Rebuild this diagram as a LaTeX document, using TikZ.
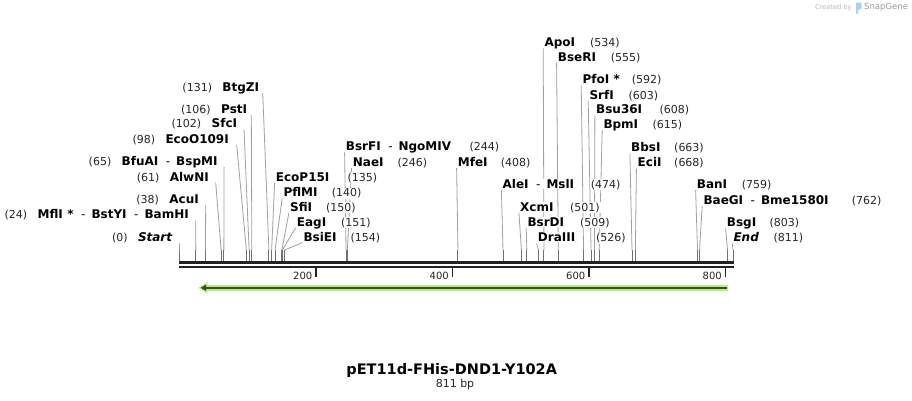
\documentclass[tikz,border=0pt]{standalone}
\usepackage{fontspec}
\setmainfont{DejaVu Sans}
\pgfdeclarelayer{back}
\pgfdeclarelayer{bg}
\pgfsetlayers{back,bg,main}
\definecolor{conncol}{HTML}{A0A0A0}
\definecolor{tickcol}{HTML}{707070}
\definecolor{bbcol}{HTML}{222222}
\definecolor{featlight}{RGB}{178,242,120}
\definecolor{featdark}{RGB}{62,72,52}
\definecolor{sgray}{HTML}{B8B8B8}
\definecolor{sblue}{HTML}{A9D2F2}
\tikzset{
  ename/.style={font=\fontsize{12}{14}\selectfont\bfseries, inner xsep=0.8pt, inner ysep=0.6pt, fill=white, text=black},
  enum/.style={font=\fontsize{11}{13}\selectfont, inner xsep=0.8pt, inner ysep=0.6pt, fill=white, text=black!85},
  conn/.style={draw=conncol, line width=0.8pt},
  cuttick/.style={draw=tickcol, line width=1pt},
  ticklbl/.style={font=\fontsize{10}{12}\selectfont, inner sep=0pt, text=black!85},
}
\newcommand{\dd}{\hspace{7.5pt}{\mdseries-}\hspace{6pt}}
% right-side label: id, name, x of text left, y centre, x of number, position
\newcommand{\RLab}[6]{%
  \node[ename, anchor=base west] (n#1) at ({#3-0.8},{#4+4.3}) {#2};
  \node[enum, anchor=base west] (m#1) at ({#5-0.8},{#4+4.3}) {(#6)};
  \coordinate (k#1) at ({179.5+#6*0.6825},250);
  \coordinate (c#1) at ({179.5+#6*0.6825},260.8);
  \begin{pgfonlayer}{bg}
    \draw[conn] ([xshift=-0.3pt,yshift=-1.7pt]n#1.base west) -- (k#1);
    \draw[cuttick] (k#1) -- (c#1);
  \end{pgfonlayer}}
% left-side label: id, name, x of text right, y centre, position, line offset
\newcommand{\LLab}[6]{%
  \node[ename, anchor=base east] (n#1) at ({#3+0.8},{#4+4.3}) {#2};
  \node[enum, anchor=base east] (m#1) at ([xshift=-8.4pt]n#1.base west) {(#5)};
  \coordinate (k#1) at ({179.5+#5*0.6825},250);
  \coordinate (c#1) at ({179.5+#5*0.6825},260.8);
  \begin{pgfonlayer}{bg}
    \draw[conn] ([xshift=#6pt,yshift=-1.7pt]n#1.base east) -- (k#1);
    \draw[cuttick] (k#1) -- (c#1);
  \end{pgfonlayer}}
\begin{document}
\begin{tikzpicture}[x=1pt,y=-1pt]
\useasboundingbox (0,0) rectangle (912,400);
\begin{pgfonlayer}{back}
\fill[white] (0,0) rectangle (912,400);
\end{pgfonlayer}

% right-side labels
\RLab{EcoP15I}{EcoP15I}{275.7}{177}{347.5}{135}
\RLab{PflMI}{PflMI}{283.3}{192.3}{331.7}{140}
\RLab{SfiI}{SfiI}{290}{206.7}{326}{150}
\RLab{EagI}{EagI}{296.7}{221.7}{341}{151}
\RLab{BsiEI}{BsiEI}{303.3}{236.7}{350.5}{154}
\RLab{BsrFI}{BsrFI\dd NgoMIV}{345.7}{146.3}{469.3}{244}
\RLab{NaeI}{NaeI}{352.7}{162}{397.3}{246}
\RLab{MfeI}{MfeI}{457.7}{162}{500.7}{408}
\RLab{AleI}{AleI\dd MslI}{502.5}{184}{590.7}{474}
\RLab{XcmI}{XcmI}{520}{206.7}{570}{501}
\RLab{BsrDI}{BsrDI}{527.3}{221.7}{580}{509}
\RLab{DraIII}{DraIII}{537.7}{237.3}{596}{526}
\RLab{ApoI}{ApoI}{544.3}{42.3}{590}{534}
\RLab{BseRI}{BseRI}{557.7}{56.7}{610.7}{555}
\RLab{PfoI}{PfoI\hspace{4.5pt}*}{582.3}{79.3}{631.7}{592}
\RLab{SrfI}{SrfI}{589.3}{95}{628.3}{603}
\RLab{Bsu36I}{Bsu36I}{596}{109.3}{659.3}{608}
\RLab{BpmI}{BpmI}{603.3}{124}{652.3}{615}
\RLab{BbsI}{BbsI}{631}{147.3}{674}{663}
\RLab{EciI}{EciI}{637.5}{162.5}{674}{668}
\RLab{BanI}{BanI}{696.7}{184}{741.7}{759}
\RLab{BaeGI}{BaeGI\dd Bme1580I}{703.3}{200}{851.7}{762}
\RLab{BsgI}{BsgI}{726.7}{222.3}{769.3}{803}
\RLab{End}{\textit{End}}{733.3}{237.3}{773.3}{811}

% left-side labels
\LLab{BtgZI}{BtgZI}{259.3}{86.7}{131}{2.6}
\LLab{PstI}{PstI}{247.3}{109}{106}{3.2}
\LLab{SfcI}{SfcI}{237.3}{123.5}{102}{5.9}
\LLab{EcoOI}{EcoO109I}{229}{139}{98}{6.9}
\LLab{BfuAI}{BfuAI\dd BspMI}{217.7}{161}{65}{5.6}
\LLab{AlwNI}{AlwNI}{209}{176.7}{61}{5.9}
\LLab{AcuI}{AcuI}{199}{199}{38}{5.9}
\LLab{MflI}{MflI\hspace{4.5pt}*\dd BstYI\dd BamHI}{189}{214.3}{24}{5.9}
\LLab{Start}{\textit{Start}}{172.7}{237.3}{0}{5.9}

% backbone
\coordinate (b0) at (179,262.3);
\coordinate (b1) at (734,262.3);
\draw[bbcol, line width=3.3pt] (b0) -- (b1);
\draw[bbcol, line width=2.3pt] ([yshift=-4.9pt]b0) -- ([yshift=-4.9pt]b1);
\foreach \v in {200,400,600,800} {
  \coordinate (tk\v) at ({179.5+\v*0.6825},268);
  \draw[bbcol, line width=1.6pt] (tk\v) -- ++(0,8.5);
  \node[ticklbl, anchor=base east] (tl\v) at ([xshift=-3.5pt,yshift=-11.8pt]tk\v) {\v};
}

% feature arrow
\coordinate (fa) at (728.3,287.8);
\coordinate (fb) at (198.3,287.8);
\draw[featlight, line width=5.8pt] (fa) -- ([xshift=8pt]fb);
\fill[featlight] (fb) -- ++(9,-5.8) -- ++(0,11.6) -- cycle;
\draw[featdark, line width=2.3pt] ([xshift=-1.5pt]fa) -- ([xshift=6pt]fb);
\fill[featdark] ([xshift=2.3pt]fb) -- ++(5.5,-3.3) -- ++(0,6.6) -- cycle;

% title
\node[font=\fontsize{14.5}{17}\selectfont\bfseries, inner sep=0pt] (title) at (451.7,370.7) {pET11d-FHis-DND1-Y102A};
\node[font=\fontsize{11}{13}\selectfont, inner sep=0pt, text=black!85] (len) at (455,384) {811 bp};

% credit
\node[font=\fontsize{6.6}{8}\selectfont, text=sgray, anchor=west, inner sep=0pt] (cred) at (815,7.5) {Created by};
\fill[sblue] (856,2.5) -- (861.5,2.5) -- (861.5,8.5) -- (858.3,10) -- (858.3,13.5) -- (856,13.5) -- cycle;
\node[font=\fontsize{8.5}{10}\selectfont, text=sgray!85!black, anchor=west, inner sep=0pt] (sg) at (864,7.5) {SnapGene};
\end{tikzpicture}
\end{document}
